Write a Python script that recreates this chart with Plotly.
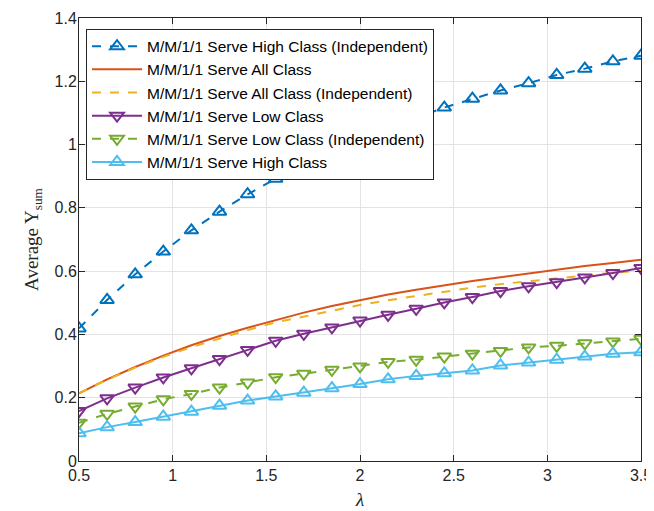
import plotly.graph_objects as go

lam = [0.5, 0.65, 0.8, 0.95, 1.1, 1.25, 1.4, 1.55, 1.7, 1.85, 2.0,
       2.15, 2.3, 2.45, 2.6, 2.75, 2.9, 3.05, 3.2, 3.35, 3.5]

high_indep = [0.419, 0.509, 0.590, 0.662, 0.729, 0.788, 0.843, 0.892, 0.938, 0.980, 1.015,
              1.050, 1.085, 1.117, 1.145, 1.171, 1.194, 1.220, 1.240, 1.263, 1.281]
all_class = [0.214, 0.258, 0.297, 0.333, 0.366, 0.395, 0.421, 0.446, 0.469, 0.490, 0.509,
             0.526, 0.541, 0.556, 0.569, 0.581, 0.593, 0.605, 0.616, 0.626, 0.636]
all_indep = [0.214, 0.257, 0.295, 0.329, 0.360, 0.388, 0.414, 0.438, 0.457, 0.476, 0.493,
             0.508, 0.522, 0.536, 0.548, 0.559, 0.568, 0.578, 0.587, 0.595, 0.602]
low_class = [0.158, 0.198, 0.232, 0.264, 0.293, 0.322, 0.351, 0.380, 0.402, 0.422, 0.444,
             0.462, 0.481, 0.501, 0.518, 0.537, 0.552, 0.565, 0.580, 0.594, 0.610]
low_indep = [0.121, 0.149, 0.172, 0.195, 0.212, 0.232, 0.248, 0.265, 0.276, 0.288, 0.299,
             0.313, 0.320, 0.330, 0.339, 0.348, 0.359, 0.364, 0.372, 0.378, 0.386]
high_class = [0.088, 0.107, 0.123, 0.140, 0.156, 0.175, 0.191, 0.204, 0.216, 0.230, 0.243,
              0.258, 0.269, 0.277, 0.286, 0.302, 0.311, 0.320, 0.330, 0.339, 0.344]

names = ["M/M/1/1 Serve High Class (Independent)", "M/M/1/1 Serve All Class",
         "M/M/1/1 Serve All Class (Independent)", "M/M/1/1 Serve Low Class",
         "M/M/1/1 Serve Low Class (Independent)", "M/M/1/1 Serve High Class"]

series = [
    (high_indep, "#0072BD", "dash", "triangle-up-open"),
    (all_class, "#D95319", "solid", None),
    (all_indep, "#EDB120", "dash", None),
    (low_class, "#7E2F8E", "solid", "triangle-down-open"),
    (low_indep, "#77AC30", "dash", "triangle-down-open"),
    (high_class, "#4DBEEE", "solid", "triangle-up-open"),
]

fig = go.Figure()
for name, (vals, col, dash, sym) in zip(names, series):
    if sym:
        fig.add_trace(go.Scatter(
            x=lam, y=vals, name=name, mode="lines+markers",
            line=dict(color=col, width=2, dash=dash),
            marker=dict(symbol=sym, size=12, color=col, line=dict(width=2, color=col)),
        ))
    else:
        fig.add_trace(go.Scatter(
            x=lam, y=vals, name=name, mode="lines",
            line=dict(color=col, width=2, dash=dash),
        ))

axis_common = dict(
    showline=True, linecolor="#262626", linewidth=1, mirror="ticks",
    ticks="inside", ticklen=6, tickcolor="#262626",
    showgrid=True, gridcolor="#E3E3E3", gridwidth=1, zeroline=False,
    automargin=False,
    tickfont=dict(family="Liberation Sans, Arial", size=16, color="#262626"),
)

fig.update_xaxes(range=[0.5, 3.5], tickvals=[0.5, 1, 1.5, 2, 2.5, 3, 3.5],
                 ticktext=["0.5", "1", "1.5", "2", "2.5", "3", "3.5"],
                 title=dict(text="<i>λ</i>", font=dict(family="Liberation Serif", size=19, color="#262626"),
                            standoff=9),
                 **axis_common)
fig.update_yaxes(range=[0, 1.4], tickvals=[0, 0.2, 0.4, 0.6, 0.8, 1, 1.2, 1.4],
                 ticktext=["0", "0.2", "0.4", "0.6", "0.8", "1", "1.2", "1.4"],
                 ticklabelstandoff=-2,
                 title=dict(text="Average Y<sub>sum</sub>", font=dict(family="Liberation Serif", size=19, color="#262626"),
                            standoff=10),
                 **axis_common)

# page body has an 8px default margin, so the figure is sized/margined to compensate
fig.update_layout(
    width=646, height=503,
    margin=dict(l=71, r=13, t=10, b=50),
    plot_bgcolor="white", paper_bgcolor="white",
    legend=dict(x=0.0125, y=0.976, xanchor="left", yanchor="top",
                bgcolor="white", bordercolor="#262626", borderwidth=1,
                font=dict(family="Liberation Sans, Arial", size=15.5, color="#000000"),
                itemwidth=50, tracegroupgap=0),
    showlegend=True,
)

fig.write_html("out.html")
